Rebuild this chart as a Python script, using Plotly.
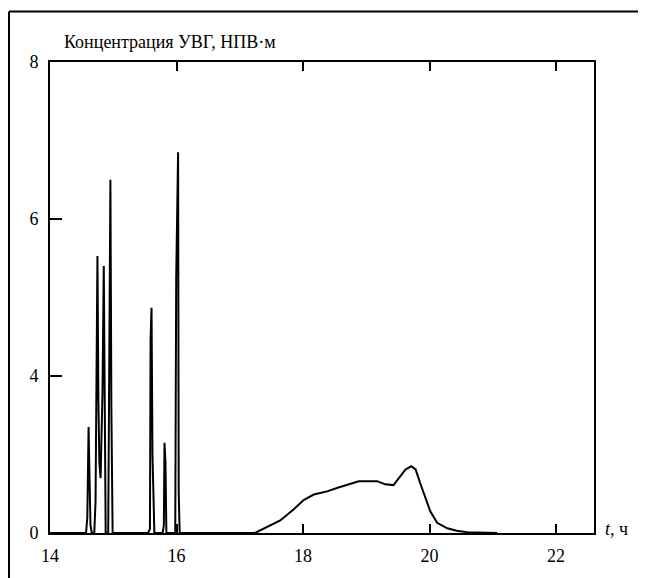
import plotly.graph_objects as go

# time, h
t = [14.00, 14.57, 14.59, 14.61, 14.625, 14.64, 14.66,
     14.70, 14.72, 14.75, 14.765, 14.78, 14.80, 14.83, 14.85, 14.865, 14.88,
     14.92, 14.955, 14.97, 14.99,
     15.55, 15.58, 15.59, 15.605, 15.62, 15.635, 15.65,
     15.78, 15.80, 15.81, 15.825, 15.84,
     15.98, 15.995, 16.01, 16.025, 16.035, 16.05,
     17.24, 17.37, 17.64, 17.85, 18.01, 18.17, 18.38, 18.56, 18.75, 18.88,
     19.17, 19.30, 19.43, 19.51, 19.62, 19.71, 19.78, 19.85, 19.93, 20.01,
     20.12, 20.28, 20.43, 20.59, 21.07]
# concentration, axis units (bottom tick labelled "0")
c = [2.0, 2.0, 2.2, 3.35, 2.7, 2.1, 2.0,
     2.0, 2.4, 5.53, 3.7, 2.9, 2.7, 3.8, 5.4, 2.85, 2.0,
     2.0, 6.5, 3.6, 2.0,
     2.0, 2.05, 4.46, 4.87, 3.0, 2.5, 2.0,
     2.0, 2.1, 3.15, 2.9, 2.0,
     2.0, 5.25, 5.9, 6.85, 2.5, 2.0,
     2.0, 2.05, 2.16, 2.30, 2.42, 2.49, 2.53, 2.58, 2.63, 2.66,
     2.66, 2.62, 2.61, 2.70, 2.81, 2.85, 2.81, 2.64, 2.47, 2.28,
     2.13, 2.06, 2.03, 2.01, 2.0]

x_ticks = [14, 16, 18, 20, 22]
y_ticks = [2, 4, 6, 8]
y_labels = ["0", "4", "6", "8"]

FONT = "Times New Roman, Liberation Serif, serif"

fig = go.Figure()
fig.add_trace(go.Scatter(x=t, y=c, mode="lines",
                         line=dict(color="black", width=2), showlegend=False,
                         hoverinfo="skip"))

fig.update_layout(
    width=638, height=570,
    margin=dict(l=42, r=52, t=54, b=41),
    paper_bgcolor="white", plot_bgcolor="white",
    font=dict(family=FONT, size=18, color="black"),
    xaxis=dict(range=[14, 22.6], tickvals=x_ticks, ticks="inside", ticklen=9,
               tickwidth=2, tickcolor="black", showline=True, linewidth=2,
               linecolor="black", mirror="ticks", showgrid=False, zeroline=False,
               ticklabelstandoff=5,
               tickfont=dict(family=FONT, size=18)),
    yaxis=dict(range=[2, 8], tickvals=y_ticks, ticktext=y_labels, ticks="inside",
               ticklen=12, tickwidth=2, tickcolor="black", showline=True,
               linewidth=2, linecolor="black", mirror=True, showgrid=False,
               zeroline=False, ticklabelstandoff=6,
               tickfont=dict(family=FONT, size=18)),
)

fig.add_annotation(x=0.022, y=1.042, xref="paper", yref="paper",
                   text="Концентрация УВГ, НПВ·м", showarrow=False,
                   xanchor="left", yanchor="middle",
                   font=dict(family=FONT, size=18))
fig.add_annotation(x=1.017, y=0.008, xref="paper", yref="paper",
                   text="<i>t</i>, ч", showarrow=False,
                   xanchor="left", yanchor="middle",
                   font=dict(family=FONT, size=18))

# outer frame (left and top edges)
fig.add_shape(type="line", xref="paper", yref="paper",
              x0=-0.0754, x1=-0.0754, y0=-0.12, y1=1.1074,
              line=dict(color="black", width=2))
fig.add_shape(type="line", xref="paper", yref="paper",
              x0=-0.0754, x1=1.12, y0=1.1074, y1=1.1074,
              line=dict(color="black", width=2))

fig.write_html("out.html", config={"displayModeBar": False})
